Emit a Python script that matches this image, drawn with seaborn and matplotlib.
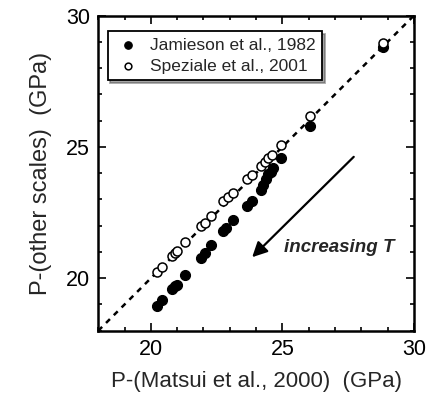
import matplotlib
matplotlib.use("Agg")
import matplotlib.pyplot as plt
import seaborn as sns
import pandas as pd

# Jamieson et al., 1982 (filled)
jam_x = [20.22, 20.44, 20.79, 20.92, 21.00, 21.29, 21.90, 22.05, 22.27, 22.75, 22.85,
         23.11, 23.67, 23.83, 24.17, 24.25, 24.37, 24.47, 24.55, 24.65, 24.94, 26.05, 28.81]
jam_y = [18.95, 19.16, 19.60, 19.70, 19.76, 20.13, 20.77, 20.96, 21.27, 21.80, 21.90,
         22.22, 22.76, 22.95, 23.37, 23.55, 23.77, 23.95, 24.05, 24.19, 24.57, 25.80, 28.81]
# Speziale et al., 2001 (open)
spz_x = [20.22, 20.44, 20.79, 20.92, 21.00, 21.29, 21.90, 22.05, 22.27, 22.75, 22.94,
         23.11, 23.67, 23.86, 24.18, 24.35, 24.47, 24.62, 24.94, 26.05, 28.81]
spz_y = [20.22, 20.42, 20.83, 20.95, 21.02, 21.37, 21.97, 22.09, 22.38, 22.94, 23.08,
         23.23, 23.78, 23.93, 24.29, 24.44, 24.56, 24.69, 25.08, 26.18, 28.94]

labels = ["Jamieson et al., 1982", "Speziale et al., 2001"]
x_label = "P-(Matsui et al., 2000)  (GPa)"
y_label = "P-(other scales)  (GPa)"
ticks = [20, 25, 30]

sns.set_style("ticks")
plt.rcParams["font.family"] = ["Liberation Sans", "DejaVu Sans"]

fig = plt.figure(figsize=(4.29, 3.98), dpi=100)
ax = fig.add_axes([0.229, 0.169, 0.736, 0.792])

ax.plot([18, 30], [18, 30], color="black", lw=1.8, ls=(0, (2.2, 2.2)), zorder=1)

df_j = pd.DataFrame({"x": jam_x, "y": jam_y})
df_s = pd.DataFrame({"x": spz_x, "y": spz_y})
sns.scatterplot(data=df_j, x="x", y="y", ax=ax, color="black", edgecolor="black",
                s=52, linewidth=0.8, label=labels[0], zorder=3)
sns.scatterplot(data=df_s, x="x", y="y", ax=ax, facecolor="white", edgecolor="black",
                s=42, linewidth=1.1, label=labels[1], zorder=4)

ax.annotate("", xy=(23.85, 20.80), xytext=(27.71, 24.62),
            arrowprops=dict(arrowstyle="-|>,head_length=0.9,head_width=0.45",
                            lw=1.6, color="black", shrinkA=0, shrinkB=0))
ax.text(25.05, 21.18, "increasing T", fontsize=13.5, fontweight="bold",
        fontstyle="italic", va="center", ha="left")

ax.set_xlim(18, 30)
ax.set_ylim(18, 30)
ax.set_xticks(ticks)
ax.set_yticks(ticks)
ax.set_xticks(range(18, 31), minor=True)
ax.set_yticks(range(18, 31), minor=True)
ax.tick_params(which="both", direction="in", top=True, right=True, width=1.2,
               labelsize=15.5, colors="black")
ax.tick_params(which="major", length=6, pad=6)
ax.tick_params(which="minor", length=3)
for sp in ax.spines.values():
    sp.set_linewidth(1.8)
    sp.set_color("black")

ax.set_xlabel(x_label, fontsize=16, labelpad=8)
ax.set_ylabel(y_label, fontsize=17, labelpad=10)

leg = ax.legend(loc="upper left", bbox_to_anchor=(0.03, 0.95), borderaxespad=0,
                fontsize=12.5, frameon=True, fancybox=False, shadow=True,
                edgecolor="black", handletextpad=0.5, markerscale=0.75,
                borderpad=0.35, labelspacing=0.35, handlelength=1.6)
leg.get_frame().set_linewidth(1.3)

fig.savefig("out.png", dpi=100)
